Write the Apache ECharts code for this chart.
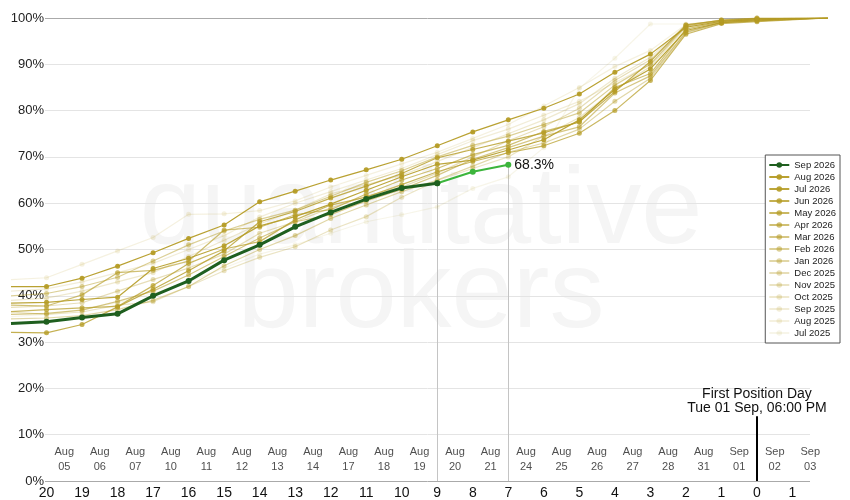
<!DOCTYPE html>
<html><head><meta charset="utf-8">
<script src="https://cdn.jsdelivr.net/npm/echarts@6/dist/echarts.min.js"></script>
<style>html,body{margin:0;padding:0;background:#fff}#c{width:850px;height:500px}</style>
</head><body><div id="c"></div>
<script>
// x positions: business days until first position day (21 .. 0), final point at -2
const xDays = [21,20,19,18,17,16,15,14,13,12,11,10,9,8,7,6,5,4,3,2,1,0];
const endDay = -2;
const endValue = 100;
const dateLabels = ['Aug\n05','Aug\n06','Aug\n07','Aug\n10','Aug\n11','Aug\n12','Aug\n13','Aug\n14','Aug\n17','Aug\n18','Aug\n19','Aug\n20','Aug\n21','Aug\n24','Aug\n25','Aug\n26','Aug\n27','Aug\n28','Aug\n31','Sep\n01','Sep\n02','Sep\n03'];
const dateStart = 19.5;   // first date label sits between day 20 and day 19
const dateRow = 4.6;      // % level of the date label row

const currentName = 'Sep 2026';
const currentValues = [34.0,34.4,35.3,36.1,40.0,43.2,47.7,51.0,54.9,58.0,60.9,63.3,64.3];   // x = 21 .. 9
const projDays = [9,8,7];
const projValues = [64.3,66.8,68.3];

const pastNames = ['Aug 2026','Jul 2026','Jun 2026','May 2026','Apr 2026','Mar 2026','Feb 2026','Jan 2026','Dec 2025','Nov 2025','Oct 2025','Sep 2025','Aug 2025','Jul 2025'];
const pastValues = [
  [42.0,42.0,43.8,46.4,49.3,52.4,55.3,60.3,62.6,65.0,67.2,69.5,72.4,75.4,78.0,80.5,83.6,88.3,92.2,98.0,99.3,99.6],
  [38.4,38.6,39.2,39.7,45.9,48.1,50.8,55.1,57.1,59.8,62.8,65.7,68.4,69.3,71.5,73.7,78.0,84.6,89.0,97.3,99.0,99.4],
  [32.1,32.0,33.8,37.6,41.4,45.4,49.7,56.0,58.2,61.1,63.7,66.4,69.8,71.6,73.4,75.2,77.6,84.1,90.6,98.5,99.5,99.8],
  [36.6,37.0,37.4,37.7,42.2,47.0,50.1,51.7,56.4,59.6,61.3,64.0,66.8,69.0,70.9,72.4,75.1,80.0,86.5,96.5,98.8,99.2],
  [38.0,37.8,40.2,45.0,45.5,47.5,54.2,54.8,57.5,58.6,62.0,65.0,67.5,70.5,72.5,75.5,77.5,85.0,88.0,97.6,99.2,99.8],
  [36.0,36.2,36.9,38.8,41.0,44.5,48.5,52.5,56.0,57.5,60.5,63.0,66.0,69.5,72.0,74.5,76.5,83.8,87.5,97.0,99.0,99.6],
  [40.0,40.5,42.0,44.0,47.5,51.0,54.0,56.5,58.5,61.5,64.5,67.0,70.0,72.5,74.5,77.0,79.5,85.5,90.0,98.3,99.6,100],
  [35.0,35.2,35.7,37.0,39.0,42.0,46.5,50.0,53.0,56.7,59.6,62.5,65.0,68.0,71.0,73.0,76.0,82.0,87.0,96.8,99.0,99.5],
  [37.5,37.8,38.5,41.0,43.5,46.0,49.0,53.5,56.0,59.0,61.5,63.5,66.5,70.0,73.5,76.5,80.5,86.5,91.0,98.2,99.4,99.8],
  [36.5,36.0,36.5,38.0,38.7,42.0,45.4,48.3,50.6,54.2,57.1,61.3,64.9,67.5,70.0,74.5,78.5,84.5,89.5,98.0,99.0,99.7],
  [39.0,39.5,41.0,43.0,45.0,48.5,52.0,55.5,58.5,62.0,64.0,66.0,69.0,72.0,75.0,78.0,81.5,87.0,91.5,98.5,99.5,100],
  [41.0,41.5,43.0,45.0,47.0,50.0,53.0,57.0,60.0,62.5,65.0,67.5,70.5,73.5,76.0,79.0,82.0,86.0,90.0,98.3,99.4,99.9],
  [43.5,43.9,46.8,49.7,52.6,57.6,57.7,58.4,60.5,63.5,66.0,68.5,71.0,74.0,77.0,81.0,85.0,89.5,93.0,98.6,99.5,100],
  [35.5,36.0,37.0,38.5,40.5,43.0,46.0,49.0,51.0,53.5,56.0,57.5,59.2,63.2,65.7,72.0,84.8,91.3,98.7,98.7,99.4,100]
];
const pastAlpha = [0.95,0.9,0.8,0.72,0.64,0.56,0.48,0.4,0.33,0.27,0.22,0.18,0.14,0.1];
const fpdDay = 0;
const fpdTop = 14;
const fpdText = 'First Position Day\nTue 01 Sep, 06:00 PM';

const chart = echarts.init(document.getElementById('c'));
const FONT = 'Liberation Sans, Arial, sans-serif';

function pts(vals, withEnd) {
  const d = vals.map((v, i) => {
    const item = { value: [xDays[i], v] };
    if (xDays[i] === 21) item.symbol = 'none';
    return item;
  });
  if (withEnd) d.push({ value: [endDay, endValue], symbol: 'none' });
  return d;
}

const series = [];
series.push({
  name: currentName, type: 'line', xAxisIndex: 0, yAxisIndex: 0, z: 10,
  data: pts(currentValues, false),
  symbol: 'circle', symbolSize: 6,
  lineStyle: { color: '#1f5f1f', width: 3 }, itemStyle: { color: '#1f5f1f' },
  emphasis: { disabled: true }, animation: false
});
pastNames.forEach((n, k) => {
  const c = 'rgba(181,156,38,' + pastAlpha[k] + ')';
  series.push({
    name: n, type: 'line', xAxisIndex: 0, yAxisIndex: 0, z: 5,
    data: pts(pastValues[k], true),
    symbol: 'circle', symbolSize: 5,
    lineStyle: { color: c, width: 1.2 }, itemStyle: { color: c },
    emphasis: { disabled: true }, animation: false
  });
});
const lastProj = projValues.length - 1;
series.push({
  name: 'proj', type: 'line', xAxisIndex: 0, yAxisIndex: 0, z: 9,
  data: projDays.map((d, i) => {
    const it = { value: [d, projValues[i]] };
    if (i === lastProj) it.label = { show: true, position: 'right', distance: 3, formatter: projValues[i].toFixed(1) + '%', fontSize: 14, color: '#111', fontFamily: FONT };
    return it;
  }),
  symbol: 'circle', symbolSize: 6,
  lineStyle: { color: '#3cb53c', width: 2 }, itemStyle: { color: '#3cb53c' },
  emphasis: { disabled: true }, animation: false,
  markLine: {
    silent: true, symbol: 'none', animation: false,
    lineStyle: { color: '#c4c4c4', width: 1, type: 'solid' }, label: { show: false },
    data: [
      [{ coord: [projDays[0], 0] }, { coord: [projDays[0], projValues[0]] }],
      [{ coord: [projDays[lastProj], 0] }, { coord: [projDays[lastProj], projValues[lastProj]] }]
    ]
  }
});
series.push({
  name: 'fpd', type: 'line', xAxisIndex: 0, yAxisIndex: 0, data: [], z: 8,
  markLine: {
    silent: true, symbol: 'none', animation: false,
    lineStyle: { color: '#000', width: 2, type: 'solid' },
    label: { show: true, position: 'end', formatter: fpdText, fontSize: 14, color: '#111', fontFamily: FONT, lineHeight: 14, distance: 1 },
    data: [[{ coord: [fpdDay, 0] }, { coord: [fpdDay, fpdTop] }]]
  }
});
series.push({
  name: 'dates', type: 'scatter', xAxisIndex: 0, yAxisIndex: 0, symbolSize: 0, z: 3,
  data: dateLabels.map((t, i) => ({ value: [dateStart - i, dateRow], name: t })),
  label: { show: true, position: 'inside', formatter: p => p.name, fontSize: 11, color: '#222', lineHeight: 15, fontFamily: FONT },
  emphasis: { disabled: true }, animation: false
});

chart.setOption({
  animation: false,
  textStyle: { fontFamily: FONT },
  graphic: [
    { type: 'text', z: -10, silent: true, x: 421, y: 213,
      style: { text: 'quantitative', font: '110px Liberation Sans, Arial, sans-serif', fill: '#f5f5f5', align: 'center', verticalAlign: 'middle', textAlign: 'center', textVerticalAlign: 'middle' } },
    { type: 'text', z: -10, silent: true, x: 421, y: 297,
      style: { text: 'brokers', font: '110px Liberation Sans, Arial, sans-serif', fill: '#f5f5f5', align: 'center', verticalAlign: 'middle', textAlign: 'center', textVerticalAlign: 'middle' } }
  ],
  legend: {
    data: [currentName].concat(pastNames),
    orient: 'vertical', right: 10, top: 155,
    backgroundColor: '#fff', borderColor: '#555', borderWidth: 1, borderRadius: 0,
    padding: [5, 4, 5, 3], itemGap: 2, itemWidth: 20, itemHeight: 7,
    textStyle: { fontSize: 9.5, color: '#222', fontFamily: FONT, padding: [0, 0, 0, 0] },
    selectedMode: false
  },
  grid: [
    { left: 11, right: 22, top: 18, bottom: 19 },
    { left: 45, right: 40, top: 18, bottom: 19 }
  ],
  xAxis: [
    { gridIndex: 0, type: 'value', min: endDay, max: 21, interval: 1, inverse: true,
      axisLine: { show: false }, axisTick: { show: false }, splitLine: { show: false },
      axisLabel: { fontSize: 14, color: '#111', margin: 5, fontFamily: FONT,
        formatter: v => (v === 21 || v === endDay) ? '' : String(Math.abs(v)) } },
    { gridIndex: 1, type: 'value', min: 0, max: 1, show: false }
  ],
  yAxis: [
    { gridIndex: 0, type: 'value', min: 0, max: 100, show: false },
    { gridIndex: 1, type: 'value', min: 0, max: 100, interval: 10,
      axisLine: { show: false }, axisTick: { show: false },
      axisLabel: { fontSize: 13, color: '#222', margin: 1, formatter: '{value}%', fontFamily: FONT, padding: [3, 0, 0, 0] },
      splitLine: { lineStyle: { width: 1, color: ['#aaaaaa','#e4e4e4','#e4e4e4','#e4e4e4','#e4e4e4','#e4e4e4','#e4e4e4','#e4e4e4','#e4e4e4','#e4e4e4','#aaaaaa'] } } }
  ],
  series: series
});
</script></body></html>
